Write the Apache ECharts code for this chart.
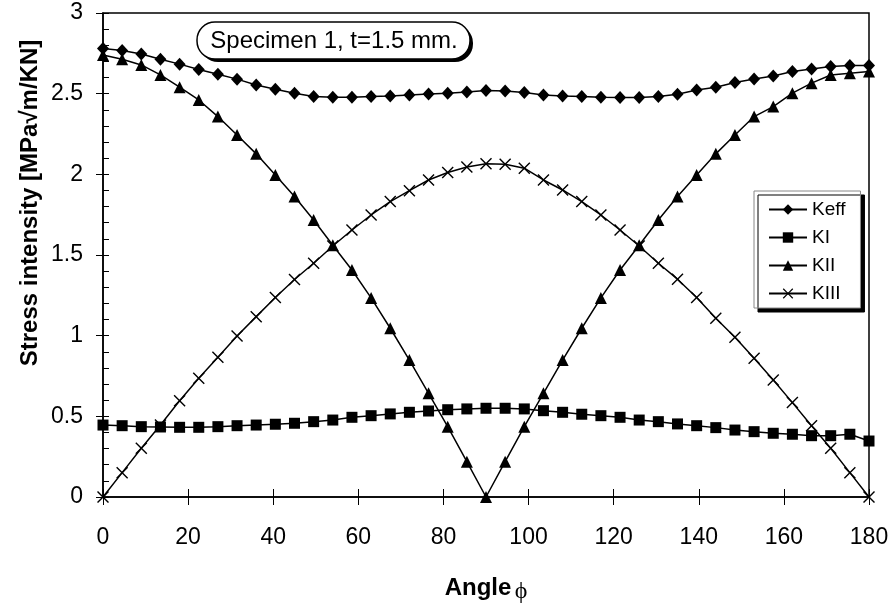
<!DOCTYPE html>
<html>
<head>
<meta charset="utf-8">
<script src="https://cdn.jsdelivr.net/npm/echarts@6/dist/echarts.min.js"></script>
<style>html,body{margin:0;padding:0;background:#fff}#c{width:893px;height:607px}</style>
</head>
<body>
<div id="c"></div>
<script>
var angles = [0,4.5,9,13.5,18,22.5,27,31.5,36,40.5,45,49.5,54,58.5,63,67.5,72,76.5,81,85.5,90,94.5,99,103.5,108,112.5,117,121.5,126,130.5,135,139.5,144,148.5,153,157.5,162,166.5,171,175.5,180];
var keff = [2.78,2.767,2.746,2.713,2.683,2.65,2.62,2.59,2.554,2.527,2.503,2.482,2.478,2.478,2.482,2.486,2.492,2.498,2.503,2.51,2.519,2.517,2.507,2.492,2.486,2.482,2.478,2.476,2.476,2.482,2.497,2.523,2.54,2.569,2.591,2.61,2.637,2.653,2.668,2.674,2.674];
var kI = [0.446,0.442,0.436,0.434,0.432,0.432,0.436,0.442,0.446,0.451,0.457,0.467,0.477,0.494,0.504,0.515,0.525,0.533,0.541,0.546,0.55,0.55,0.546,0.535,0.525,0.513,0.504,0.494,0.477,0.467,0.453,0.442,0.43,0.415,0.405,0.395,0.389,0.38,0.38,0.389,0.347];
var kII = [2.74,2.713,2.678,2.616,2.54,2.461,2.358,2.244,2.127,1.996,1.862,1.717,1.56,1.407,1.234,1.046,0.849,0.643,0.436,0.219,0,0.219,0.436,0.643,0.849,1.046,1.234,1.407,1.56,1.717,1.862,1.996,2.127,2.244,2.358,2.42,2.503,2.565,2.616,2.627,2.637];
var kIII = [0,0.151,0.302,0.446,0.597,0.736,0.866,0.998,1.118,1.237,1.348,1.449,1.556,1.655,1.748,1.831,1.899,1.965,2.011,2.045,2.065,2.062,2.038,1.965,1.903,1.831,1.748,1.655,1.556,1.449,1.35,1.237,1.108,0.99,0.86,0.725,0.585,0.442,0.302,0.151,0];
var seriesNames = ['Keff','KI','KII','KIII'];
var xTicks = [0,20,40,60,80,100,120,140,160,180];

var FONT = 'Liberation Sans, Arial, sans-serif';
var xPath = 'path://M0,1L1,0L6,5L11,0L12,1L7,6L12,11L11,12L6,7L1,12L0,11L5,6Z';
function pairs(arr){ return angles.map(function(a,i){ return [a, arr[i]]; }); }
function mk(name, arr, symbol, size){
  return {
    name: name, type: 'line', data: pairs(arr), xAxisIndex: 0, yAxisIndex: 0,
    symbol: symbol, symbolSize: size, showAllSymbol: true,
    lineStyle: {color: '#000', width: 1.5},
    itemStyle: {color: '#000'},
    emphasis: {disabled: true}, animation: false
  };
}
var chart = echarts.init(document.getElementById('c'), null, {renderer: 'canvas'});
chart.setOption({
  animation: false,
  backgroundColor: '#fff',
  grid: {left: 103, right: 24, top: 13, bottom: 110, show: true, borderColor: '#000', borderWidth: 1.5, backgroundColor: 'transparent'},
  xAxis: [
    {type: 'value', min: xTicks[0], max: xTicks[xTicks.length-1], interval: 20, position: 'bottom',
     axisLine: {show: true, onZero: false, lineStyle: {color: '#000', width: 1.5}},
     axisTick: {show: true, length: 8, lineStyle: {color: '#000', width: 1}},
     axisLabel: {color: '#000', fontSize: 23, fontFamily: FONT, margin: 29},
     splitLine: {show: false}},
    {type: 'value', min: xTicks[0], max: xTicks[xTicks.length-1], interval: 20, position: 'bottom', offset: 0,
     axisLine: {show: false, onZero: false},
     axisTick: {show: true, inside: true, length: 8, lineStyle: {color: '#000', width: 1}},
     axisLabel: {show: false}, splitLine: {show: false}}
  ],
  yAxis: [
    {type: 'value', min: 0, max: 3, interval: 0.5, position: 'left',
     axisLine: {show: true, onZero: false, lineStyle: {color: '#000', width: 1.5}},
     axisTick: {show: true, length: 7, lineStyle: {color: '#000', width: 1}},
     axisLabel: {color: '#000', fontSize: 23, fontFamily: FONT, margin: 20},
     splitLine: {show: false}},
    {type: 'value', min: 0, max: 3, interval: 0.1, position: 'left', offset: 0,
     axisLine: {show: false, onZero: false},
     axisTick: {show: true, inside: true, length: 6, lineStyle: {color: '#000', width: 1}},
     axisLabel: {show: false}, splitLine: {show: false}}
  ],
  legend: {
    data: seriesNames, orient: 'vertical', left: 754, top: 191,
    itemWidth: 38, itemHeight: 13, itemGap: 9,
    padding: [9, 15, 5, 14],
    backgroundColor: '#fff', borderColor: '#888', borderWidth: 1,
    shadowColor: '#000', shadowBlur: 0, shadowOffsetX: 4, shadowOffsetY: 4,
    textStyle: {color: '#000', fontSize: 19, fontFamily: FONT},
    selectedMode: false
  },
  graphic: [
    {type: 'rect', shape: {x: 200, y: 25, width: 273, height: 37, r: 18}, style: {fill: '#000'}, z: 10},
    {type: 'rect', shape: {x: 197, y: 22, width: 273, height: 37, r: 18}, style: {fill: '#fff', stroke: '#000', lineWidth: 1.5}, z: 11},
    {type: 'text', x: 334, y: 41, z: 12, style: {text: 'Specimen 1, t=1.5 mm.', fill: '#000', font: '24px ' + FONT, textAlign: 'center', textVerticalAlign: 'middle'}},
    {type: 'text', x: 30, y: 203, rotation: Math.PI / 2, z: 12, style: {text: 'Stress intensity [MPa√m/KN]', fill: '#000', font: 'bold 24px ' + FONT, textAlign: 'center', textVerticalAlign: 'middle'}},
    {type: 'text', x: 486, y: 588, z: 12, style: {
      text: '{a|Angle} {b|ϕ}', textAlign: 'center', textVerticalAlign: 'middle',
      rich: {a: {fontSize: 24, fontWeight: 'bold', fontFamily: FONT, color: '#000'},
             b: {fontSize: 24, fontFamily: 'Liberation Serif, DejaVu Serif, serif', color: '#000', padding: [8, 0, 0, 0]}}}}
  ],
  series: [
    mk(seriesNames[0], keff, 'diamond', [12, 13]),
    mk(seriesNames[1], kI, 'rect', 11),
    mk(seriesNames[2], kII, 'triangle', 12),
    mk(seriesNames[3], kIII, xPath, 12)
  ]
});
</script>
</body>
</html>
